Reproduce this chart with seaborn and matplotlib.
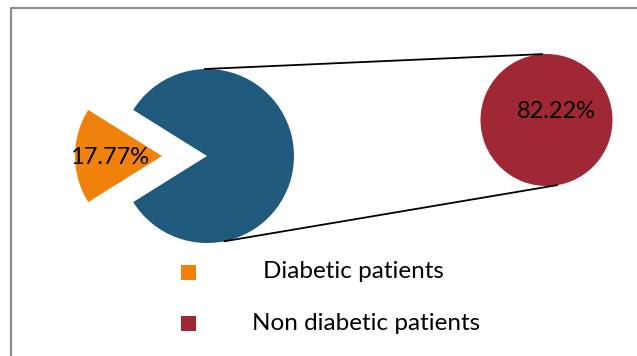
import matplotlib
matplotlib.use("Agg")
import matplotlib.pyplot as plt
import seaborn as sns
import numpy as np
from matplotlib.patches import Rectangle

sns.set_theme(style="white")
plt.rcParams['font.family'] = ['Lato', 'DejaVu Sans']

# Data
categories = ["Diabetic patients", "Non diabetic patients"]
values = [17.77, 82.22]
pie_colors = ["#F0820C", "#1F5A7D"]
detail_color = "#A02835"

W, H = 637, 356
fig = plt.figure(figsize=(W / 100, H / 100), dpi=100)
ax = fig.add_axes([0, 0, 1, 1])
ax.set_xlim(0, W)
ax.set_ylim(0, H)
ax.set_aspect('equal')
ax.axis('off')

def Y(py):
    return H - py

# main pie
pc = (207, Y(156))
pr = 87
frac0 = values[0] / sum(values)
start = 180 - frac0 * 360 / 2
ax.pie(values, colors=pie_colors, startangle=start, counterclock=True,
       explode=[45, 0], center=pc, radius=pr, frame=True,
       wedgeprops=dict(linewidth=0))

# detail circle (bar-of-pie style)
dc = (546.5, Y(120))
dr = 66
ax.pie([values[1]], colors=[detail_color], center=dc, radius=dr, frame=True,
       wedgeprops=dict(linewidth=0))
ax.set_xlim(0, W)
ax.set_ylim(0, H)
ax.axis('off')

# connector lines
def pt(c, r, ang):
    a = np.deg2rad(ang)
    return c[0] + r * np.cos(a), c[1] + r * np.sin(a)

p1 = pt(pc, pr, 92); q1 = pt(dc, dr, 93)
p2 = pt(pc, pr, -79); q2 = pt(dc, dr, -80)
ax.plot([p1[0], q1[0]], [p1[1], q1[1]], color="black", lw=1.3, solid_capstyle='butt')
ax.plot([p2[0], q2[0]], [p2[1], q2[1]], color="black", lw=1.3, solid_capstyle='butt')

# labels
ax.text(110, Y(158), f"{values[0]:.2f}%", ha='center', va='center', fontsize=17, color='black')
ax.text(556, Y(112), f"{values[1]:.2f}%", ha='center', va='center', fontsize=17, color='black')

# legend
leg_colors = [pie_colors[0], detail_color]
leg_y = [272, 323]
leg_tx = [263, 252]
for c, yy, tx, lab in zip(leg_colors, leg_y, leg_tx, categories):
    ax.add_patch(Rectangle((181, Y(yy) - 7.5), 15, 15, color=c, lw=0))
    ax.text(tx, Y(yy), lab, ha='left', va='center', fontsize=17.5, color='black')

# chart border
ax.plot([10.5, 10.5, W + 5], [-5, Y(7.5), Y(7.5)], color="#8C8C8C", lw=1.6, clip_on=False)

fig.savefig("out.png", dpi=100)
